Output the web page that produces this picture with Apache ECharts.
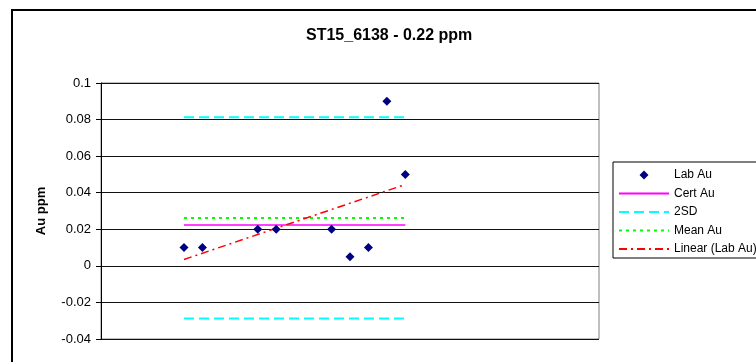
<!DOCTYPE html>
<html>
<head>
<meta charset="utf-8">
<script src="https://cdn.jsdelivr.net/npm/echarts@6/dist/echarts.min.js"></script>
<style>html,body{margin:0;padding:0;background:#fff;}#c{width:756px;height:362px;}</style>
</head>
<body>
<div id="c"></div>
<script>
// ---- data ----
const titleText = 'ST15_6138 - 0.22 ppm';
const yAxisName = 'Au ppm';
const categories = ['1','2','3','4','5','6','7','8','9','10','11','12','13','14','15','16','17','18','19','20','21','22','23','24','25','26','27'];
const labAu = [null,null,null,null,0.01,0.01,null,null,0.02,0.02,null,null,0.02,0.005,0.01,0.09,0.05,null,null,null,null,null,null,null,null,null,null];
const lineStartIdx = 4;
const lineEndIdx = 16;
const certAu = 0.0224;
const sdUpper = 0.0813;
const sdLower = -0.0288;
const meanAu = 0.0262;
const trendEnds = [0.0035, 0.0445];
const yMin = -0.04, yMax = 0.1, yStep = 0.02;

const flat = v => [[lineStartIdx, v], [lineEndIdx, v]];
const font = 'Arial, "Liberation Sans", sans-serif';
const hiddenSym = {color: 'transparent', borderWidth: 0, borderColor: 'transparent'};
// diamond centred in a 50x10 legend slot (corner moves fix the bounding box)
const legendDiamond = 'path://M0,0M50,10M20.5,5L25,0.5L29.5,5L25,9.5Z';

const chart = echarts.init(document.getElementById('c'), null, {renderer: 'canvas'});
chart.setOption({
  animation: false,
  backgroundColor: '#fff',
  title: {
    text: titleText, left: 301, top: 23,
    textStyle: {fontFamily: font, fontSize: 16, fontWeight: 'bold', color: '#000'}
  },
  graphic: [{
    type: 'rect', shape: {x: 12, y: 10, width: 800, height: 400},
    style: {fill: 'none', stroke: '#000', lineWidth: 2}, silent: true, z: -1
  }],
  legend: {
    orient: 'vertical', left: 613, top: 162,
    padding: [7, 5, 3, 5],
    borderColor: '#000', borderWidth: 1,
    itemWidth: 50, itemHeight: 10, itemGap: 6.5,
    textStyle: {fontFamily: font, fontSize: 12, color: '#000', lineHeight: 12},
    data: [
      {name: 'Lab Au', icon: legendDiamond},
      'Cert Au', '2SD', 'Mean Au', 'Linear (Lab Au)'
    ]
  },
  grid: {
    left: 101, top: 83, right: 157, bottom: 23,
    show: true, borderColor: '#808080', borderWidth: 1, backgroundColor: '#fff'
  },
  xAxis: {
    type: 'category', data: categories, boundaryGap: true,
    axisLine: {show: false}, axisTick: {show: false}, axisLabel: {show: false}, splitLine: {show: false}
  },
  yAxis: {
    type: 'value', min: yMin, max: yMax, interval: yStep,
    name: yAxisName, nameLocation: 'middle', nameGap: 53,
    nameTextStyle: {fontFamily: font, fontSize: 13, fontWeight: 'bold', color: '#000'},
    axisLine: {show: true, lineStyle: {color: '#000', width: 1}},
    axisTick: {show: true, length: 5, lineStyle: {color: '#000'}},
    axisLabel: {fontFamily: font, fontSize: 13, color: '#000', margin: 10,
      formatter: v => String(+v.toFixed(3))},
    splitLine: {show: true, lineStyle: {color: '#111', width: 1}}
  },
  series: [
    {name: 'Lab Au', type: 'scatter', data: labAu, symbol: 'diamond', symbolSize: 9,
     itemStyle: {color: '#000080', opacity: 1}, z: 5},
    {name: 'Cert Au', type: 'line', data: flat(certAu), symbol: 'circle', showSymbol: false,
     lineStyle: {color: '#FF00FF', width: 1.5, type: 'solid'}, itemStyle: hiddenSym},
    {name: '2SD', type: 'line', data: flat(sdUpper), symbol: 'circle', showSymbol: false,
     lineStyle: {color: '#00FFFF', width: 2, type: [10, 5]}, itemStyle: hiddenSym},
    {name: '2SD', type: 'line', data: flat(sdLower), symbol: 'circle', showSymbol: false,
     lineStyle: {color: '#00FFFF', width: 2, type: [10, 5]}, itemStyle: hiddenSym},
    {name: 'Mean Au', type: 'line', data: flat(meanAu), symbol: 'circle', showSymbol: false,
     lineStyle: {color: '#00FF00', width: 2, type: [3, 4]}, itemStyle: hiddenSym},
    {name: 'Linear (Lab Au)', type: 'line',
     data: [[lineStartIdx, trendEnds[0]], [lineEndIdx, trendEnds[1]]], symbol: 'circle', showSymbol: false,
     lineStyle: {color: '#FF0000', width: 1.5, type: [8, 4, 2, 4]}, itemStyle: hiddenSym}
  ]
});
</script>
</body>
</html>
